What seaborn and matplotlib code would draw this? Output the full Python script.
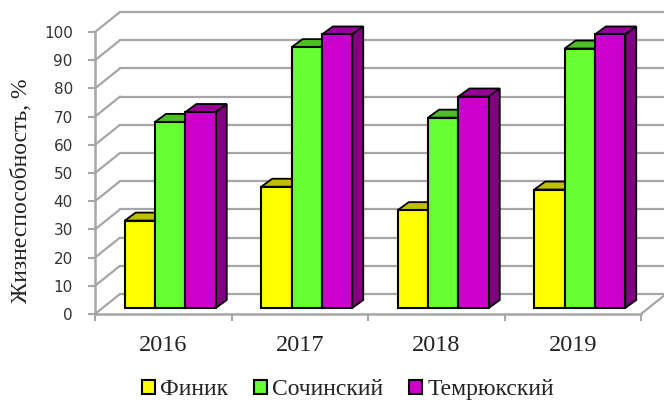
import matplotlib
matplotlib.use("Agg")
import matplotlib.pyplot as plt
import pandas
import seaborn as sns
from matplotlib.patches import Polygon

# values
years = ["2016", "2017", "2018", "2019"]
sorts = ["Финик", "Сочинский", "Темрюкский"]
finik = [31, 43, 34.7, 42]
sochi = [66, 92.5, 67.5, 92]
temryuk = [69.5, 97, 75, 97]
y_ticks = [0, 10, 20, 30, 40, 50, 60, 70, 80, 90, 100]

front_colors = ["#ffff00", "#66ff33", "#cc00cc"]
top_colors = ["#bfbf00", "#4dbf26", "#990099"]
side_color = "#800080"
grid_color = "#a6a6a6"

rows = []
for name, vals in zip(sorts, [finik, sochi, temryuk]):
    for yr, v in zip(years, vals):
        rows.append({"year": yr, "sort": name, "value": v})
df = pandas.DataFrame(rows)

sns.set_theme(style="ticks")
plt.rcParams["font.family"] = ["Liberation Serif", "DejaVu Serif"]

W, H = 664, 400
fig = plt.figure(figsize=(W / 100, H / 100), dpi=100)
ax = fig.add_axes([95 / W, (H - 314) / H, 546 / W, 282 / H])

g = sns.barplot(data=df, x="year", y="value", hue="sort", order=years,
                hue_order=sorts, palette=front_colors, saturation=1,
                width=91 / 136.5, gap=0, edgecolor="black", linewidth=1.5,
                zorder=3, ax=ax)
ax.set_xlim(-0.5, 3.5)
ax.set_ylim(0, 100)

# pixel sizes of the fake 3d box, as data units
px = 1 / 136.5
py = 100 / 282
wall_dx, wall_dy = 25 * px, 20 * py
bar_dx, bar_dy = 11 * px, 8 * py
shift_x, shift_y = 7 * px, 6 * py

# side wall and back wall lines
for t in y_ticks:
    ax.plot([-0.5, -0.5 + wall_dx], [t, t + wall_dy], color=grid_color, lw=1.6, clip_on=False, zorder=1)
    ax.plot([-0.5 + wall_dx, 3.5 + wall_dx], [t + wall_dy, t + wall_dy], color=grid_color, lw=1.6, clip_on=False, zorder=1)
ax.plot([3.5, 3.5 + wall_dx], [0, wall_dy], color=grid_color, lw=1.6, clip_on=False, zorder=1)

# bars stand a bit inside the floor, then get their top and side faces
for i, cont in enumerate(ax.containers):
    for bar in cont:
        bar.set_x(bar.get_x() + shift_x)
        bar.set_y(shift_y)
        bar.set_clip_on(False)
        x0, x1 = bar.get_x(), bar.get_x() + bar.get_width()
        y0, y1 = bar.get_y(), bar.get_y() + bar.get_height()
        top = Polygon([(x0, y1), (x0 + bar_dx, y1 + bar_dy), (x1 + bar_dx, y1 + bar_dy), (x1, y1)],
                      facecolor=top_colors[i], edgecolor="black", lw=1.3, clip_on=False, zorder=2 + i * 0.1)
        ax.add_patch(top)
        if i == 2:
            side = Polygon([(x1, y0), (x1 + bar_dx, y0 + bar_dy), (x1 + bar_dx, y1 + bar_dy), (x1, y1)],
                           facecolor=side_color, edgecolor="black", lw=1.3, clip_on=False, zorder=2.5)
            ax.add_patch(side)

sns.despine(ax=ax)
for s in ["left", "bottom"]:
    ax.spines[s].set_color(grid_color)
    ax.spines[s].set_linewidth(1.8)
    ax.spines[s].set_zorder(1.5)

ax.set_yticks(y_ticks)
ax.set_yticklabels([str(t) for t in y_ticks], family="DejaVu Sans", fontsize=11, color="#333333")
ax.tick_params(axis="y", length=5, width=1.5, color=grid_color, pad=11)
ax.set_xticks([-0.5, 0.5, 1.5, 2.5, 3.5], minor=True)
ax.tick_params(axis="x", which="minor", length=5, width=1.5, color=grid_color)
ax.tick_params(axis="x", which="major", length=0, pad=15, labelsize=17.5, labelcolor="#222222")

ax.set_xlabel("")
ax.set_ylabel("Жизнеспособность, %", fontsize=17, color="#222222")
ax.yaxis.set_label_coords(32 / W, (H - 191) / H, transform=fig.transFigure)

sns.move_legend(ax, "center", bbox_to_anchor=(348 / W, (H - 389.5) / H), bbox_transform=fig.transFigure,
                ncol=3, title=None, frameon=False, fontsize=17, handlelength=0.55, handleheight=0.55,
                handletextpad=0.21, columnspacing=1.1, labelcolor="#222222")

plt.savefig("out.png", dpi=100)
